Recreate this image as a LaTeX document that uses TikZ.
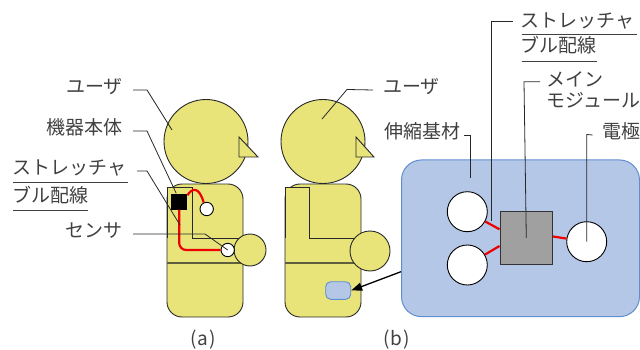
\documentclass[tikz,border=0pt]{standalone}
\usepackage{fontspec}
\setmainfont{Noto Sans CJK JP}
\usetikzlibrary{arrows.meta}
\definecolor{bodyfill}{RGB}{232,228,122}
\definecolor{padfill}{RGB}{180,199,231}
\definecolor{paddraw}{RGB}{96,142,208}
\definecolor{modfill}{RGB}{160,160,160}
\definecolor{inkline}{RGB}{40,40,40}
\definecolor{labelink}{RGB}{64,64,64}
\definecolor{wirered}{RGB}{238,0,0}
\definecolor{waistline}{RGB}{95,95,60}

\begin{document}
\begin{tikzpicture}[x=1pt,y=-1pt,
  lbl/.style={inner sep=0pt, text height=0.88em, text depth=0.12em, text=labelink,
              font=\fontsize{19}{22}\selectfont},
  leader/.style={draw=inkline, line width=0.8pt},
  rule/.style={draw=labelink, line width=0.8pt},
  figpart/.style={fill=bodyfill, draw=inkline, line width=0.9pt},
  limb/.style={circle, fill=bodyfill, draw=inkline, line width=0.9pt, inner sep=0pt},
  wire/.style={draw=wirered, line width=2.2pt},
  dot/.style={circle, fill=white, draw=black, line width=0.9pt, inner sep=0pt},
]
\useasboundingbox (0,0) rectangle (640,350);

% ---------- (a): wearer with device, wiring and sensors
\node[limb, minimum size=84pt] (headA) at (206,141.5) {};
\draw[figpart] (239,137) -- (239,157) -- (258,157) -- cycle;
\draw[figpart, rounded corners=15pt] (167,184) rectangle (243,317);
\fill[bodyfill] (167,187) rectangle (192,238);
\draw[inkline, line width=0.9pt] (167,238) -- (167,187) -- (192,187) -- (192,238) -- (241,238);
\draw[waistline, line width=1.2pt] (167,263) -- (243,263);
\node[limb, minimum size=32pt] (handA) at (250,250) {};

\node[fill=black, minimum width=16pt, minimum height=16pt, inner sep=0pt] (devA) at (179.2,201.5) {};
\node[dot, minimum size=13.4pt] (senA1) at (206.7,209) {};
\node[dot, minimum size=13.4pt] (senA2) at (227.7,250) {};
\draw[wire] ([yshift=-2pt]devA.north east) .. controls (192,188) and (199,186) .. (senA1.115);
\draw[wire, rounded corners=7pt] (devA.south) -- (devA.south |- senA2.west) -- (senA2.west);

\node[lbl, anchor=east] (userA) at (123,90) {ユーザ};
\coordinate (userAtip) at (172,130);
\draw[leader] ([xshift=10pt]userA.east) -- ++(14,0) -- (userAtip);

\node[lbl, anchor=east] (unitA) at (123,131) {機器本体};
\draw[leader] ([xshift=10pt]unitA.east) -- ++(14,0) -- ([xshift=-3pt]devA.north);

\node[lbl, anchor=west] (wireA1) at (12.5,171) {ストレッチャ};
\node[lbl, anchor=west] (wireA2) at (12.5,199) {ブル配線};
\draw[rule] (13,182) -- (128,182);
\draw[rule] (13,210.5) -- (88,210.5);
\coordinate (wireAtip) at (180,225);
\draw[leader] (137,171) -- (147,171) -- (wireAtip);

\node[lbl, anchor=east] (sensA) at (123,234) {センサ};
\draw[leader] ([xshift=10pt]sensA.east) -- (205,234) -- (senA2.center);

\node[lbl] (capA) at (203,342) {(\kern1pt a\kern1pt)};

% ---------- (b): wearer with the patch, and the patch enlarged
\node[limb, minimum size=84pt] (headB) at (323,141.5) {};
\draw[figpart] (356,137) -- (356,157) -- (374,157) -- cycle;
\draw[figpart, rounded corners=15pt] (285,184) rectangle (361,317);
\fill[bodyfill] (285,187) rectangle (309,238);
\draw[inkline, line width=0.9pt] (285,238) -- (285,187) -- (309,187) -- (309,238) -- (356,238);
\draw[waistline, line width=1.2pt] (285,263) -- (361,263);
\node[limb, minimum size=40pt] (handB) at (370,251) {};
\node[fill=padfill, draw=paddraw, line width=0.9pt, rounded corners=5pt, inner sep=0pt,
      minimum width=25pt, minimum height=17.6pt] (patch) at (338.2,290.5) {};

\node[fill=padfill, draw=paddraw, line width=1pt, rounded corners=20pt, inner sep=0pt,
      minimum width=238pt, minimum height=156.7pt] (panel) at (520.5,238.3) {};
\draw[-{Triangle[length=11pt,width=8pt]}, line width=1.3pt, black]
  ([yshift=-33.4pt]panel.west) -- (patch.east);

\node[dot, minimum size=40pt] (elL1) at (467.3,211.7) {};
\node[dot, minimum size=40pt] (elL2) at (467.3,265) {};
\node[dot, minimum size=40pt] (elR) at (586.7,241.7) {};
\node[fill=modfill, draw=black!80, line width=0.9pt, minimum size=52.7pt, inner sep=0pt] (module) at (526.3,238) {};
\draw[wire] (elL1) -- ([yshift=8.7pt]module.west);
\draw[wire] (elL2) -- ([yshift=-8pt]module.west);
\draw[wire] ([yshift=1.5pt]module.east) -- (elR);

\node[lbl, anchor=west] (userB) at (383,90) {ユーザ};
\coordinate (userBtip) at (322,119);
\draw[leader] ([xshift=-10pt]userB.west) -- (347,89.5) -- (userBtip);

\node[lbl, anchor=west] (baseB) at (384.5,135) {伸縮基材};
\coordinate (baseBtip) at (470.7,178);
\draw[leader] ([xshift=3pt]baseB.east) -- (baseBtip |- baseB.east) -- (baseBtip);

\node[lbl, anchor=west] (wireB1) at (520.5,24) {ストレッチャ};
\node[lbl, anchor=west] (wireB2) at (520.5,49) {ブル配線};
\draw[rule] (521.7,34) -- (637,34);
\draw[rule] (521.7,61) -- (597,61);
\coordinate (wireBtip) at (491.7,221);
\draw[leader] (513,21.7) -- (491.7,21.7) -- (wireBtip);

\node[lbl, anchor=west] (modB1) at (546.5,83) {メイン};
\node[lbl, anchor=west] (modB2) at (546.5,104) {モジュール};
\draw[leader] (540,81.7) -- (524,81.7) -- (module.center);

\node[lbl, anchor=west] (elecB) at (602.5,135) {電極};
\draw[leader] ([xshift=-10pt]elecB.west) -- (586.7,134.5) -- (elR.center);

\node[lbl] (capB) at (396.7,342) {(\kern1pt b\kern1pt)};
\end{tikzpicture}
\end{document}
